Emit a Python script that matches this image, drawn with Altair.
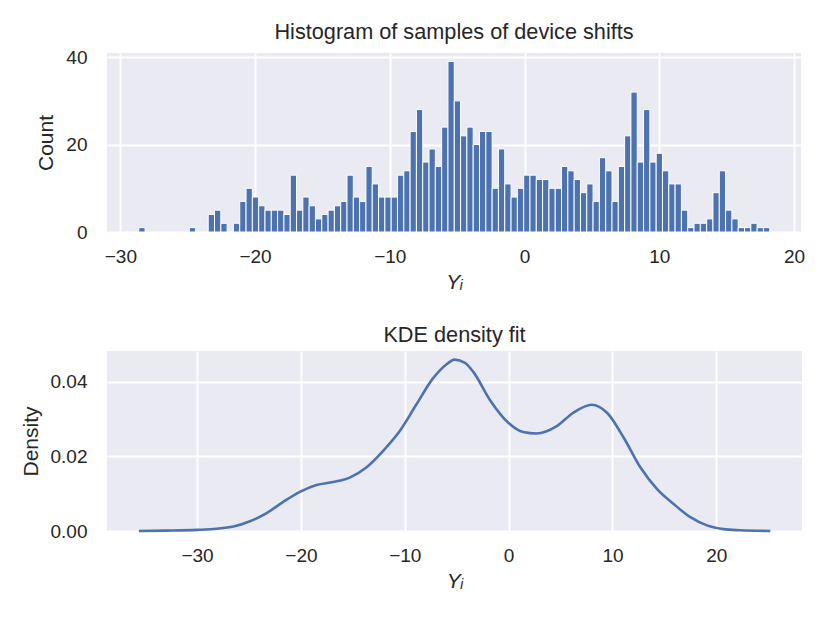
import altair as alt
import numpy as np
import pandas as pd

# ---------------- data ----------------
# histogram: 100 equal-width bins between these limits, with these counts
bin_lo = -28.63
bin_hi = 18.20
counts = [
    1, 0, 0, 0, 0, 0, 0, 0, 1, 0,
    0, 4, 5, 2, 0, 2, 7, 10, 8, 6,
    5, 5, 5, 4, 13, 5, 8, 6, 3, 4,
    5, 6, 7, 13, 8, 7, 15, 11, 8, 8,
    8, 13, 14, 23, 28, 16, 19, 15, 24, 39,
    30, 22, 24, 20, 23, 23, 10, 19, 11, 8,
    10, 13, 13, 12, 12, 10, 10, 15, 14, 12,
    9, 11, 7, 17, 14, 7, 15, 22, 32, 16,
    28, 16, 18, 14, 11, 11, 5, 1, 2, 2,
    3, 9, 14, 5, 3, 1, 1, 2, 1, 1,
]

# KDE curve
kde_x = [-35.6, -33.0, -30.0, -28.1, -26.5, -24.9, -23.3, -21.7, -20.0, -18.5,
         -16.9, -15.3, -13.7, -12.1, -10.5, -8.9, -7.3, -6.0, -5.2, -4.2,
         -3.4, -1.8, 0.0, 1.4, 2.7, 4.6, 6.2, 8.0, 9.5, 11.1,
         12.7, 14.3, 15.9, 17.5, 19.1, 20.7, 22.3, 25.2]
kde_y = [0.0000, 0.0001, 0.0003, 0.0006, 0.0012, 0.0026, 0.0048, 0.0078, 0.0106, 0.0123,
         0.0131, 0.0143, 0.0170, 0.0214, 0.0267, 0.0338, 0.0408, 0.0446, 0.0459, 0.0450,
         0.0426, 0.0351, 0.0289, 0.0265, 0.0261, 0.0280, 0.0316, 0.0338, 0.0316, 0.0249,
         0.0170, 0.0112, 0.0072, 0.0037, 0.0015, 0.0005, 0.0002, 0.0000]

x_ticks_top = [-30, -20, -10, 0, 10, 20]
y_ticks_top = [0, 20, 40]
x_ticks_bot = [-30, -20, -10, 0, 10, 20]
y_ticks_bot = [0.0, 0.02, 0.04]

# ---------------- tables ----------------
edges = np.linspace(bin_lo, bin_hi, len(counts) + 1)
hist_df = pd.DataFrame({"x0": edges[:-1], "x1": edges[1:], "count": counts})
hist_df = hist_df[hist_df["count"] > 0]
kde_df = pd.DataFrame({"x": kde_x, "density": kde_y})

BLUE = "#4C72B0"
TXT = "#262626"
FONT = "Liberation Sans"

top = alt.Chart(hist_df).mark_rect(color=BLUE, stroke="white", strokeWidth=1).encode(
    x=alt.X("x0:Q",
            scale=alt.Scale(domain=[-30.99, 20.52], nice=False, zero=False),
            axis=alt.Axis(values=x_ticks_top, title="Yᵢ", format="d")),
    x2="x1:Q",
    y=alt.Y("count:Q",
            scale=alt.Scale(domain=[0, 40.95], nice=False),
            axis=alt.Axis(values=y_ticks_top, title="Count", format="d")),
).properties(width=694, height=179,
             title=alt.Title("Histogram of samples of device shifts"))

bottom = alt.Chart(kde_df).mark_line(color=BLUE, strokeWidth=2.6, interpolate="monotone").encode(
    x=alt.X("x:Q",
            scale=alt.Scale(domain=[-38.67, 28.25], nice=False, zero=False),
            axis=alt.Axis(values=x_ticks_bot, title="Yᵢ", format="d")),
    y=alt.Y("density:Q",
            scale=alt.Scale(domain=[0, 0.0482], nice=False),
            axis=alt.Axis(values=y_ticks_bot, title="Density", format=".2f")),
).properties(width=695, height=180,
             title=alt.Title("KDE density fit"))

chart = alt.vconcat(top, bottom, spacing=33).properties(
    padding={"left": 12, "top": 14, "right": 5, "bottom": 5}
).configure_view(
    fill="#EAEAF2", stroke=None
).configure_axis(
    grid=True, gridColor="white", gridWidth=2, domain=False, ticks=False,
    labelFont=FONT, titleFont=FONT, labelFontSize=19, titleFontSize=21,
    labelColor=TXT, titleColor=TXT, titleFontWeight="normal",
).configure_axisX(
    labelPadding=15, titlePadding=5, titleFontStyle="italic",
).configure_axisY(
    labelPadding=20, titlePadding=9,
).configure_title(
    font=FONT, fontSize=21.7, fontWeight="normal", color=TXT, offset=4,
)

chart.save("out.html", embed_options={"renderer": "svg", "actions": False})
